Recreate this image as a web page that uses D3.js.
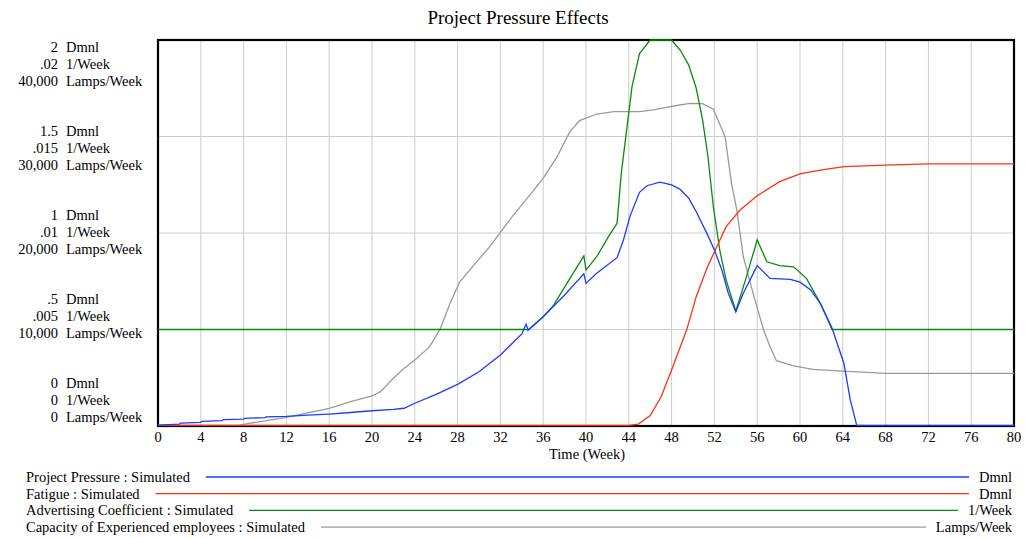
<!DOCTYPE html>
<html>
<head>
<meta charset="utf-8">
<script src="https://cdn.jsdelivr.net/npm/d3@7"></script>
<style>
  body { margin: 0; background: #fff; }
  text { font-family: "Liberation Serif", "Times New Roman", serif; fill: #000; }
  .grid line { stroke: #cccccc; stroke-width: 1; }
</style>
</head>
<body>
<div id="chart"></div>
<script>
// time axis
var weekTicks = d3.range(0, 81, 4);

// left axis label groups (one per gridline), top to bottom
var dmnlTicks = ["2", "1.5", "1", ".5", "0"];
var perWeekTicks = [".02", ".015", ".01", ".005", "0"];
var lampTicks = ["40,000", "30,000", "20,000", "10,000", "0"];
var units = ["Dmnl", "1/Week", "Lamps/Week"];

// series: [week, value]
var pressure = [[0,0.005],[2,0.01],[2.1,0.015],[4,0.019],[4.1,0.024],[6,0.028],[6.1,0.033],[8,0.036],[8.1,0.04],[10,0.043],[10.1,0.047],[12,0.05],[14,0.056],[16,0.062],[18,0.07],[20,0.079],[22,0.086],[23,0.092],[24,0.118],[26,0.164],[28,0.216],[30,0.281],[32,0.368],[34,0.477],[34.4,0.527],[34.6,0.497],[36,0.566],[38,0.679],[39.8,0.788],[40,0.739],[41,0.791],[42.9,0.872],[43.5,0.964],[44.1,1.085],[45,1.211],[45.7,1.245],[46.9,1.263],[48,1.249],[48.8,1.226],[49.6,1.18],[50.3,1.11],[51.3,0.998],[52,0.912],[52.7,0.808],[53.3,0.688],[54,0.592],[54.7,0.688],[56,0.831],[57.2,0.765],[59.1,0.76],[60,0.745],[61,0.705],[61.9,0.636],[63,0.506],[64.1,0.325],[64.7,0.135],[65.3,0],[80,0]];
var fatigue = [[0,0],[44,0],[44.9,0.01],[46,0.054],[47,0.149],[48,0.29],[49.4,0.497],[50.3,0.67],[51.3,0.817],[52,0.903],[53.1,1.033],[54.4,1.119],[56,1.193],[58.1,1.266],[60,1.306],[61.9,1.326],[64.1,1.344],[68,1.352],[72,1.358],[80,1.358]];
var advertising = [[0,0.005],[34.4,0.005],[34.6,0.00497],[36,0.00566],[36.9,0.0062],[38,0.0072],[39.8,0.00881],[40,0.00808],[41,0.00877],[42.2,0.0099],[42.9,0.0105],[43.3,0.0131],[43.8,0.01534],[44.3,0.01758],[45,0.0193],[46,0.02],[48,0.02],[48.8,0.01948],[49.6,0.0187],[50.3,0.0175],[50.9,0.01585],[51.4,0.01395],[51.9,0.01136],[52.5,0.00912],[53.1,0.00756],[54,0.00596],[54.9,0.00756],[56,0.00964],[56.9,0.00851],[58.1,0.00831],[59.4,0.00825],[60.6,0.00765],[61.9,0.00636],[63,0.005],[80,0.005]];
var capacity = [[0,0],[7.5,0],[8,176],[12,900],[16,1830],[18,2520],[20,3110],[20.8,3560],[22,4940],[23,5980],[24,6840],[25.4,8220],[26.4,10120],[27.3,12710],[28.2,14950],[29.8,17030],[31,18580],[32,20070],[33.1,21690],[34.5,23590],[36,25660],[37.3,27910],[38.5,30500],[39.4,31650],[41,32330],[42.6,32570],[45,32570],[46.3,32750],[48.2,33160],[49.7,33440],[50.9,33400],[51.9,32820],[53,29980],[53.6,25150],[54.1,22380],[54.7,17540],[55.7,13400],[56.6,9950],[57.2,8220],[57.8,6770],[59.4,6220],[61.2,5870],[64.4,5670],[68.1,5460],[80,5460]];

var width = 1025, height = 538;
var plotL = 158, plotR = 1014, plotT = 40, plotB = 426;

var svg = d3.select("#chart").append("svg")
    .attr("width", width)
    .attr("height", height);

var x = d3.scaleLinear().domain([0, 80]).range([plotL, plotR]);
var yDmnl = d3.scaleLinear().domain([0, 2]).range([plotB, plotT]);
var yRate = d3.scaleLinear().domain([0, 0.02]).range([plotB, plotT]);
var yLamps = d3.scaleLinear().domain([0, 40000]).range([plotB, plotT]);

svg.append("text")
    .attr("x", 518)
    .attr("y", 24)
    .attr("text-anchor", "middle")
    .style("font-size", "19px")
    .text("Project Pressure Effects");

// gridlines
var grid = svg.append("g").attr("class", "grid");
grid.selectAll(".v").data(weekTicks.slice(1, -1)).enter().append("line")
    .attr("x1", function(d) { return x(d); }).attr("x2", function(d) { return x(d); })
    .attr("y1", plotT).attr("y2", plotB);
grid.selectAll(".h").data([0.5, 1, 1.5]).enter().append("line")
    .attr("x1", plotL).attr("x2", plotR)
    .attr("y1", function(d) { return yDmnl(d); }).attr("y2", function(d) { return yDmnl(d); });

// frame goes under the curves (red/blue sit on the bottom edge)
svg.append("rect")
    .attr("x", plotL).attr("y", plotT)
    .attr("width", plotR - plotL).attr("height", plotB - plotT)
    .attr("fill", "none")
    .attr("stroke", "#000")
    .attr("stroke-width", 2.2);

// left labels, spread evenly down the side
var labelY = d3.scaleLinear().domain([0, 4]).range([64, 400]);
var lab = svg.append("g").style("font-size", "14.5px");
dmnlTicks.forEach(function(t, i) {
  var rows = [[t, units[0]], [perWeekTicks[i], units[1]], [lampTicks[i], units[2]]];
  rows.forEach(function(r, j) {
    var yy = labelY(i) + (j - 1) * 17 + 5;
    lab.append("text").attr("x", 58).attr("y", yy).attr("text-anchor", "end").text(r[0]);
    lab.append("text").attr("x", 66).attr("y", yy).text(r[1]);
  });
});

// x axis labels
svg.append("g").style("font-size", "14.5px")
  .selectAll("text").data(weekTicks).enter().append("text")
    .attr("x", function(d) { return x(d); })
    .attr("y", 442)
    .attr("text-anchor", "middle")
    .text(function(d) { return d; });

svg.append("text")
    .attr("x", 587)
    .attr("y", 459)
    .attr("text-anchor", "middle")
    .style("font-size", "14.5px")
    .text("Time (Week)");

var series = [
  { name: "Project Pressure : Simulated", unit: "Dmnl", data: pressure, y: yDmnl, color: "#1a3cff" },
  { name: "Fatigue : Simulated", unit: "Dmnl", data: fatigue, y: yDmnl, color: "#ff3010" },
  { name: "Advertising Coefficient : Simulated", unit: "1/Week", data: advertising, y: yRate, color: "#0a8a0a" },
  { name: "Capacity of Experienced employees : Simulated", unit: "Lamps/Week", data: capacity, y: yLamps, color: "#9a9a9a" }
];

var plot = svg.append("g");
// draw order: grey, green, red, then blue on top
[3, 2, 1, 0].forEach(function(i) {
  var s = series[i];
  var line = d3.line()
      .x(function(d) { return x(d[0]); })
      .y(function(d) { return Math.min(s.y(d[1]), plotB - 0.7); });
  plot.append("path")
      .datum(s.data)
      .attr("fill", "none")
      .attr("stroke", s.color)
      .attr("stroke-width", 1.3)
      .attr("d", line);
});

// legend
var leg = svg.append("g").style("font-size", "14.5px");
series.forEach(function(s, i) {
  var yy = 477 + i * 16.7;
  var t = leg.append("text").attr("x", 26).attr("y", yy + 5).text(s.name);
  var u = leg.append("text").attr("x", 1012).attr("y", yy + 5).attr("text-anchor", "end").text(s.unit);
  var x1 = 26 + t.node().getComputedTextLength() + 16;
  var x2 = 1012 - u.node().getComputedTextLength() - 10;
  leg.append("line")
      .attr("x1", x1).attr("x2", x2)
      .attr("y1", yy).attr("y2", yy)
      .attr("stroke", s.color)
      .attr("stroke-width", 1.3);
});
</script>
</body>
</html>
